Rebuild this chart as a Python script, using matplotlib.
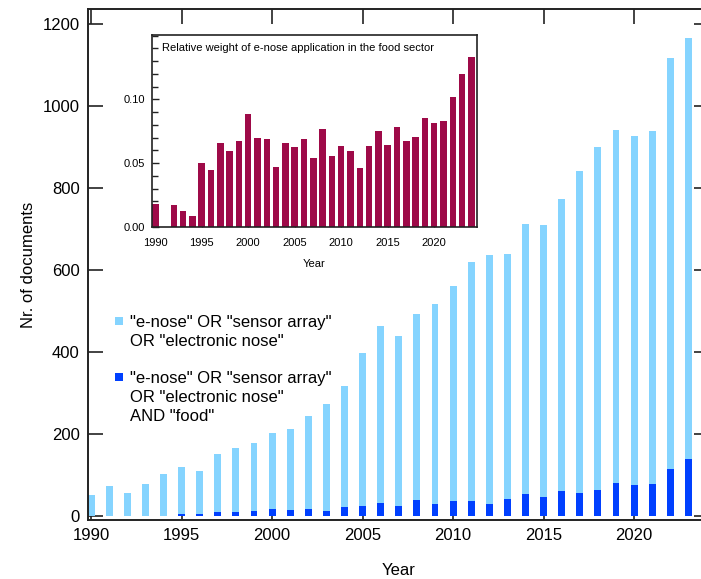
import matplotlib
matplotlib.use("Agg")
import matplotlib.pyplot as plt
from matplotlib.ticker import MultipleLocator, FixedLocator, FormatStrFormatter

plt.rcParams['font.family'] = ['Liberation Sans', 'DejaVu Sans']

years = list(range(1990, 2024))
total_docs = [51, 72, 55, 77, 103, 119, 110, 150, 167, 178,
              203, 213, 244, 273, 316, 398, 463, 438, 492, 518,
              560, 619, 636, 639, 712, 710, 773, 841, 900, 941,
              927, 939, 1117, 1166]
food_docs = [1, 0, 1, 1, 1, 6, 5, 10, 10, 12,
             18, 15, 17, 13, 21, 25, 32, 24, 38, 29,
             36, 37, 30, 41, 54, 46, 61, 57, 64, 81,
             76, 78, 114, 139]

inset_years = list(range(1990, 2025))
inset_ratio = [0.0184, 0.0, 0.0170, 0.0123, 0.0089, 0.0501, 0.0449, 0.0659, 0.0593, 0.0675,
               0.0885, 0.0701, 0.0693, 0.0472, 0.0661, 0.0625, 0.0688, 0.0543, 0.0769, 0.0556,
               0.0638, 0.0593, 0.0465, 0.0635, 0.0753, 0.0646, 0.0785, 0.0675, 0.0706, 0.0858,
               0.0816, 0.0827, 0.1021, 0.1202, 0.1331]
inset_yticks = [0.0, 0.05, 0.10]

label_all = '"e-nose" OR "sensor array"\nOR "electronic nose"'
label_food = '"e-nose" OR "sensor array"\nOR "electronic nose"\nAND "food"'
color_all = '#85D4FF'
color_food = '#0040FF'

W, H = 701, 579
fig = plt.figure(figsize=(W / 100, H / 100), dpi=100)

# main axes (right edge extends slightly past the canvas, as in the reference)
l, r, t, b = 88, 709, 9, 520
ax = fig.add_axes([l / W, (H - b) / H, (r - l) / W, (b - t) / H])
ax.set_axisbelow(True)
ax.bar(years, total_docs, width=0.38, color=color_all, zorder=1)
ax.bar(years, food_docs, width=0.38, color=color_food, zorder=1.1)
ax.set_xlim(1989.83, 2024.14)
ax.set_ylim(-9.8, 1236.6)
ax.xaxis.set_major_locator(MultipleLocator(5))
ax.yaxis.set_major_locator(MultipleLocator(200))
ax.tick_params(direction='in', length=11, width=1.2, labelsize=12,
               top=True, right=True, color='#222222')
ax.tick_params(axis='x', pad=6)
ax.tick_params(axis='y', pad=6)
for s in ax.spines.values():
    s.set_linewidth(1.4)
    s.set_color('#222222')
ax.set_xlabel('Year', fontsize=12, labelpad=14)
ax.set_ylabel('Nr. of documents', fontsize=12, labelpad=5)

# legend: square marker aligned with the first line of each multi-line label
def px_to_axes(xp, yp):
    return (xp - l) / (r - l), (b - yp) / (b - t)

for label, color, y_first in [(label_all, color_all, 321), (label_food, color_food, 377)]:
    mx, my = px_to_axes(118.5, y_first)
    ax.scatter([mx], [my], marker='s', s=30, color=color, transform=ax.transAxes,
               clip_on=False, zorder=3, linewidths=0)
    tx, ty = px_to_axes(130, y_first - 6.5)
    ax.text(tx, ty, label, transform=ax.transAxes, fontsize=12, ha='left',
            va='top', linespacing=1.36, zorder=3)

# inset axes
il, ir, it, ib = 152, 477, 35, 227
ax2 = fig.add_axes([il / W, (H - ib) / H, (ir - il) / W, (ib - it) / H])
ax2.set_axisbelow(True)
ax2.bar(inset_years, inset_ratio, width=0.7, color='#9E0A48', zorder=1)
ax2.set_xlim(1989.65, 2024.6)
ax2.set_ylim(0, 0.1505)
ax2.xaxis.set_major_locator(MultipleLocator(5))
ax2.yaxis.set_major_locator(FixedLocator(inset_yticks))
ax2.yaxis.set_minor_locator(MultipleLocator(0.01))
ax2.yaxis.set_major_formatter(FormatStrFormatter('%.2f'))
ax2.tick_params(which='both', direction='in', labelsize=8, color='#222222')
ax2.tick_params(which='major', length=5, width=1)
ax2.tick_params(which='minor', length=4, width=1)
ax2.tick_params(axis='x', pad=8)
ax2.tick_params(axis='y', pad=5)
for s in ax2.spines.values():
    s.set_linewidth(1.2)
    s.set_color('#222222')
ax2.set_xlabel('Year', fontsize=8, labelpad=8)
ax2.text(0.03, 0.93, 'Relative weight of e-nose application in the food sector',
         transform=ax2.transAxes, fontsize=8, ha='left', va='center')

fig.savefig('out.png', dpi=100)
